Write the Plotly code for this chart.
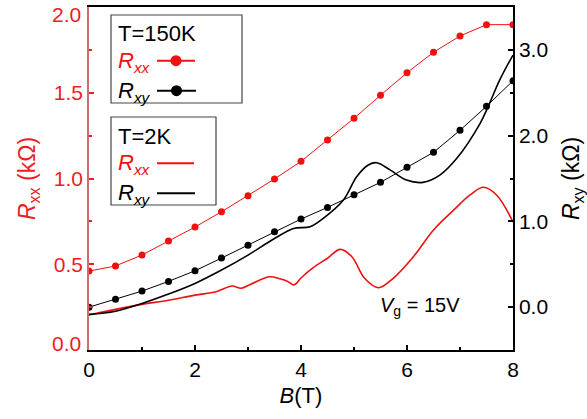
import plotly.graph_objects as go

# ---- data ----
B_150 = [0, 0.5, 1, 1.5, 2, 2.5, 3, 3.5, 4, 4.5, 5, 5.5, 6, 6.5, 7, 7.5, 8]
Rxx_150 = [0.46, 0.49, 0.554, 0.636, 0.717, 0.806, 0.90, 0.997, 1.10, 1.224,
           1.351, 1.485, 1.617, 1.736, 1.831, 1.897, 1.897]
Rxy_150 = [0.0, 0.093, 0.187, 0.30, 0.424, 0.572, 0.723, 0.879, 1.027, 1.163,
           1.31, 1.455, 1.63, 1.805, 2.062, 2.342, 2.64]

B_2_xx = [0, 0.5, 1.0, 1.5, 2.0, 2.4, 2.7, 2.87, 3.05, 3.4, 3.6, 3.75, 3.87, 4.0,
          4.23, 4.5, 4.74, 4.96, 5.2, 5.46, 5.74, 6.12, 6.5, 6.88, 7.19, 7.44,
          7.69, 8.0]
Rxx_2 = [0.204, 0.237, 0.266, 0.29, 0.32, 0.34, 0.373, 0.36, 0.383, 0.427, 0.415,
         0.40, 0.38, 0.42, 0.48, 0.535, 0.587, 0.544, 0.418, 0.363, 0.418, 0.544,
         0.70, 0.816, 0.904, 0.949, 0.904, 0.746]

B_2_xy = [0, 0.5, 1.0, 1.5, 2.0, 2.5, 3.0, 3.5, 3.86, 4.17, 4.42, 4.8, 5.05, 5.27,
          5.43, 5.68, 5.99, 6.3, 6.62, 6.94, 7.38, 7.53, 7.75, 8.0]
Rxy_2 = [-0.085, -0.047, 0.043, 0.152, 0.276, 0.432, 0.607, 0.80, 0.918, 0.937,
         1.035, 1.249, 1.52, 1.657, 1.684, 1.60, 1.482, 1.455, 1.54, 1.735, 2.143,
         2.337, 2.649, 2.94]

# left-axis tick labels (edge labels drawn as text nudged inside the figure, as in the original)
yl_tickvals = [0, 0.5, 1.0, 1.5, 2.0]
yl_ticktext = ["0.0", "0.5", "1.0", "1.5", "2.0"]

RED = "#f01010"
LRED = "#ee1c25"
FONT = "Liberation Sans, Arial, sans-serif"

fig = go.Figure()
fig.add_trace(go.Scatter(x=B_2_xx, y=Rxx_2, mode="lines", line=dict(color=RED, width=1.6, shape="spline"),
                         name="Rxx 2K", yaxis="y"))
fig.add_trace(go.Scatter(x=B_2_xy, y=Rxy_2, mode="lines", line=dict(color="black", width=1.6, shape="spline"),
                         name="Rxy 2K", yaxis="y2"))
fig.add_trace(go.Scatter(x=B_150, y=Rxx_150, mode="lines+markers", line=dict(color=RED, width=1),
                         marker=dict(color=RED, size=7), name="Rxx 150K", yaxis="y"))
fig.add_trace(go.Scatter(x=B_150, y=Rxy_150, mode="lines+markers", line=dict(color="black", width=1),
                         marker=dict(color="black", size=7), name="Rxy 150K", yaxis="y2"))

W, H = 587, 419
L, R, T, Bm = 89, 74, 7, 69
pw, ph = W - L - R, H - T - Bm


def px(x):
    return (x - L) / pw


def py(y):
    return (H - Bm - y) / ph


shapes = []
annots = []
# legend boxes
for (x0, y0, x1, y1) in [(111, 15, 242, 103), (111, 117, 216, 205)]:
    shapes.append(dict(type="rect", xref="paper", yref="paper", x0=px(x0), x1=px(x1),
                       y0=py(y1), y1=py(y0), line=dict(color="#444", width=1.2),
                       fillcolor="white", layer="above"))

def leg_item(text, color, ly, lx0, lx1, marker):
    annots.append(dict(text=text, xref="paper", yref="paper", x=px(116), y=py(ly + 1),
                       xanchor="left", yanchor="middle", showarrow=False,
                       font=dict(size=22, color=color, family=FONT)))
    shapes.append(dict(type="line", xref="paper", yref="paper", x0=px(lx0), x1=px(lx1),
                       y0=py(ly), y1=py(ly), line=dict(color=color, width=2), layer="above"))
    if marker:
        cx = (lx0 + lx1) / 2
        shapes.append(dict(type="circle", xref="paper", yref="paper", xsizemode="pixel",
                           ysizemode="pixel", xanchor=px(cx), yanchor=py(ly), x0=-5.5, x1=5.5,
                           y0=-5.5, y1=5.5, fillcolor=color, line=dict(color=color, width=0),
                           layer="above"))

annots.append(dict(text="T=150K", xref="paper", yref="paper", x=px(116), y=py(33.5),
                   xanchor="left", yanchor="middle", showarrow=False,
                   font=dict(size=22, color="black", family=FONT)))
leg_item("<i>R<sub>xx</sub></i>", RED, 60.7, 157, 195, True)
leg_item("<i>R<sub>xy</sub></i>", "black", 90.7, 157, 196, True)
annots.append(dict(text="T=2K", xref="paper", yref="paper", x=px(116), y=py(136),
                   xanchor="left", yanchor="middle", showarrow=False,
                   font=dict(size=22, color="black", family=FONT)))
leg_item("<i>R<sub>xx</sub></i>", RED, 163.3, 157, 194, False)
leg_item("<i>R<sub>xy</sub></i>", "black", 193.3, 157, 195, False)

annots.append(dict(text="<i>V</i><sub>g</sub> = 15V", xref="paper", yref="paper",
                   x=px(378), y=py(306), xanchor="left", yanchor="middle", showarrow=False,
                   font=dict(size=20, color="black", family=FONT)))

# edge tick labels of left axis, nudged inside the figure
ticktext_axis = list(yl_ticktext)
for i, (v, t) in enumerate(zip(yl_tickvals, yl_ticktext)):
    if i == 0 or i == len(yl_tickvals) - 1:
        ticktext_axis[i] = ""
        nudge = 7 if i == 0 else -7  # px upward / downward
        annots.append(dict(text=t, xref="paper", yref="y", x=px(L - 6), y=v,
                           yshift=nudge, xanchor="right", yanchor="middle", showarrow=False,
                           font=dict(size=21, color=LRED, family=FONT)))

fig.update_layout(
    width=W, height=H, margin=dict(l=L, r=R, t=T, b=Bm, autoexpand=False),
    plot_bgcolor="white", paper_bgcolor="white", showlegend=False,
    font=dict(family=FONT, size=20, color="black"),
    shapes=shapes, annotations=annots,
    xaxis=dict(range=[0, 8], dtick=2, tick0=0, ticks="inside", ticklen=5, tickwidth=1.5,
               tickcolor="black", showline=True, linecolor="black", linewidth=1.5,
               mirror=True, showgrid=False, zeroline=False, automargin=False,
               minor=dict(ticks="inside", dtick=1, ticklen=3, tickcolor="black"),
               title=dict(text="<i>B</i>(T)", font=dict(size=22), standoff=8),
               tickfont=dict(size=21)),
    yaxis=dict(range=[0, 2.0], tickmode="array", tickvals=yl_tickvals, ticktext=ticktext_axis,
               ticks="inside", ticklen=5, tickwidth=1.5,
               tickcolor=LRED, showline=True, linecolor="#d46a6a", linewidth=1.5,
               showgrid=False, zeroline=False, automargin=False,
               minor=dict(ticks="inside", tickvals=[0.25, 0.75, 1.25, 1.75], ticklen=3,
                          tickcolor=LRED),
               tickfont=dict(size=21, color=LRED),
               title=dict(text="<i>R</i><sub>xx</sub> (kΩ)", font=dict(size=23, color=LRED),
                          standoff=12)),
    yaxis2=dict(range=[-0.5, 3.5], dtick=1, tick0=0, ticks="inside", ticklen=5, tickwidth=1.5,
                tickcolor="black", showline=True, linecolor="black", linewidth=1.5,
                overlaying="y", side="right", anchor="x", showgrid=False, zeroline=False,
                tickformat=".1f", automargin=False,
                minor=dict(ticks="inside", dtick=0.5, ticklen=3, tickcolor="black"),
                tickfont=dict(size=21, color="black"),
                title=dict(text="<i>R</i><sub>xy</sub> (kΩ)", font=dict(size=23, color="black"),
                           standoff=20)),
)

fig.write_html("out.html", config={"displayModeBar": False},
               post_script="document.body.style.margin='0';document.body.style.overflow='hidden';")
